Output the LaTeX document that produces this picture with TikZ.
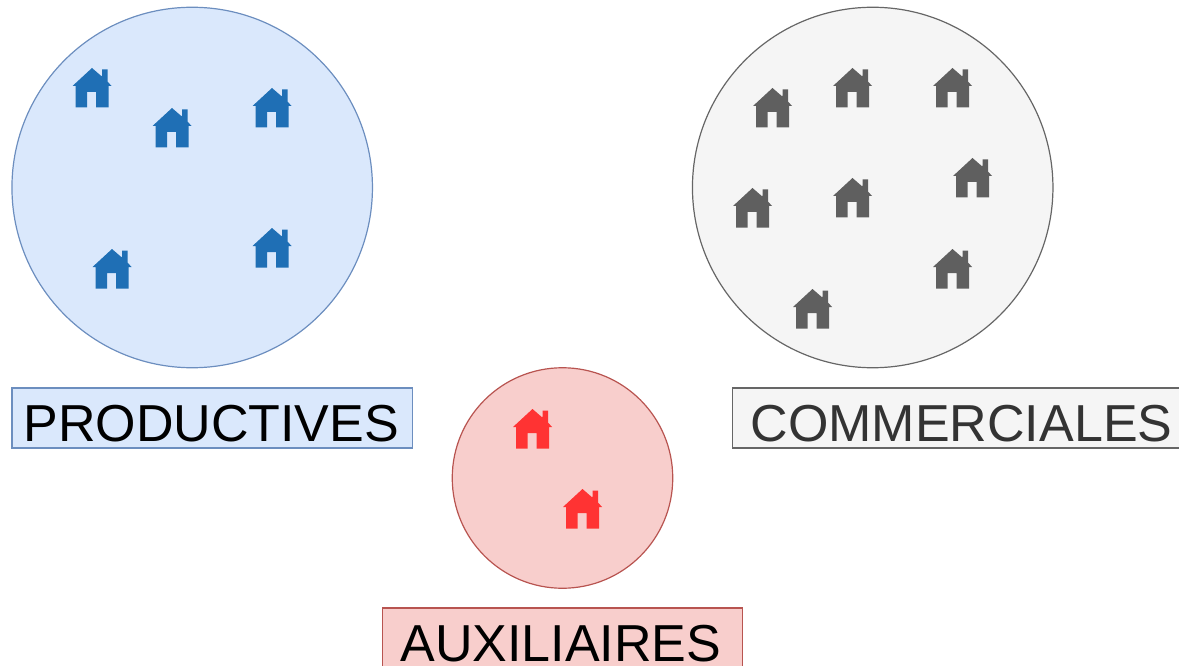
\documentclass[tikz,border=0pt]{standalone}
\usepackage{fontspec}
\setmainfont{Liberation Sans}
\definecolor{bluefill}{HTML}{DAE8FC}
\definecolor{blueline}{HTML}{6C8EBF}
\definecolor{redfill}{HTML}{F8CECC}
\definecolor{redline}{HTML}{B85450}
\definecolor{greyfill}{HTML}{F5F5F5}
\definecolor{greyline}{HTML}{666666}
\definecolor{hblue}{HTML}{1F6FB5}
\definecolor{hgrey}{HTML}{5F5F5F}
\definecolor{hred}{HTML}{FF3333}
\definecolor{tgrey}{HTML}{333333}
\tikzset{
  x=1pt,y=-1pt,
  zone/.style={circle,draw,line width=1.2pt,inner sep=0pt,outer sep=0pt},
  tag/.style={draw,line width=1.2pt,inner sep=0pt,outer sep=0pt,minimum height=60pt,text height=47pt,text depth=0pt,font=\fontsize{52}{52}\selectfont,anchor=north west},
  house/.pic={
    \fill[pic actions]
      (0,-20) -- (9,-12.2) -- (10,-12.2) -- (10,-18.5) -- (15.5,-18.5) -- (15.5,-6.5) -- (19.5,-2) -- (16.5,-2) -- (16.5,19.5) -- (4,19.5) -- (4,4) -- (-5,4) -- (-5,19.5) -- (-16.5,19.5) -- (-16.5,-2) -- (-19.5,-2) -- cycle;
  }
}
\begin{document}
\begin{tikzpicture}
\useasboundingbox (0,0) rectangle (1179,666);
\node[zone,fill=bluefill,draw=blueline,minimum size=360.5pt] (prod) at (192.2,187.5) {};
\node[zone,fill=greyfill,draw=greyline,minimum size=360.5pt] (comm) at (872.7,187.5) {};
\node[zone,fill=redfill,draw=redline,minimum size=220.5pt] (aux) at (562.5,478) {};
\node[tag,fill=bluefill,draw=blueline,minimum width=400.5pt] (lprod) at (12,388) {\hspace*{-2pt}PRODUCTIVES};
\node[tag,fill=greyfill,draw=greyline,minimum width=450pt,text=tgrey] (lcomm) at (732.5,388) {\hspace*{8pt}COMMERCIALES};
\node[tag,fill=redfill,draw=redline,minimum width=360.5pt] (laux) at (382.2,608) {\hspace*{-3pt}AUXILIAIRES};
\foreach \p in {(92,88),(172,128),(272,108),(112,269),(272,248)}
  \pic[fill=hblue] at \p {house};
\foreach \p in {(772.5,108),(852.5,88),(952.5,88),(972.5,178),(752.5,208),(852.5,198),(952.5,269),(812.5,309)}
  \pic[fill=hgrey] at \p {house};
\foreach \p in {(532.5,429),(582.5,509)}
  \pic[fill=hred] at \p {house};
\end{tikzpicture}
\end{document}
